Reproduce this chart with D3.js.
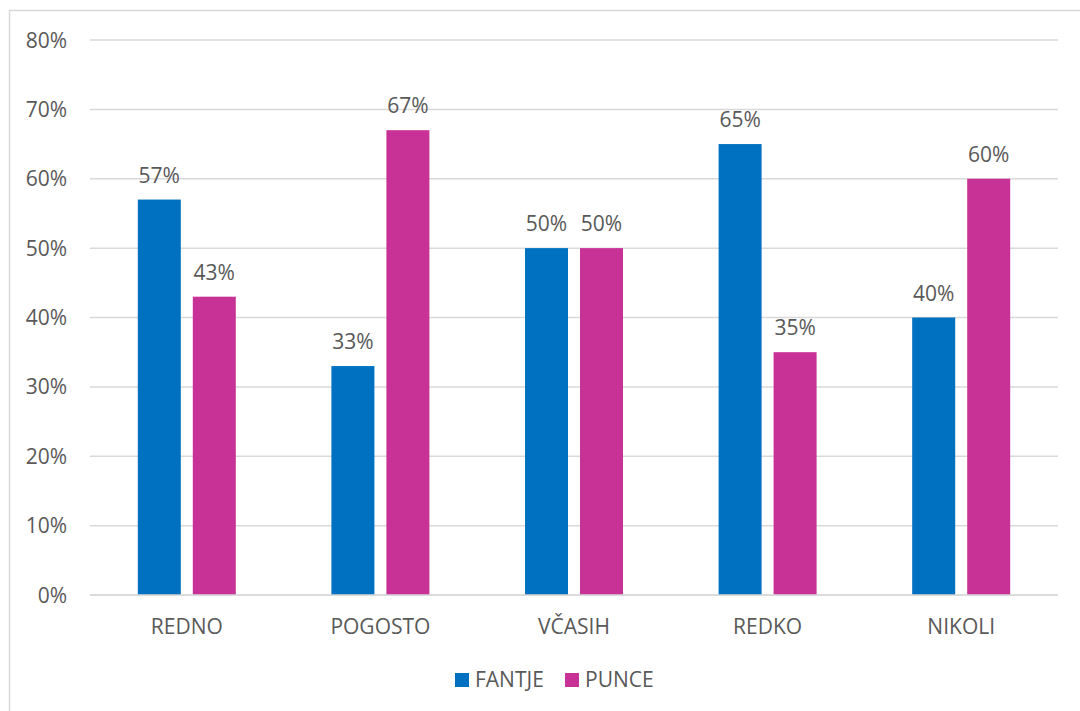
<!DOCTYPE html>
<html><head><meta charset="utf-8">
<script src="https://cdn.jsdelivr.net/npm/d3@7"></script>
<style>body{margin:0;background:#fff;} text{font-family:"Open Sans",sans-serif;fill:#595959;}</style>
</head><body>
<svg id="c" width="1080" height="711"></svg>
<script>
const categories = ["REDNO","POGOSTO","VČASIH","REDKO","NIKOLI"];
const seriesNames = ["FANTJE","PUNCE"];
const fantje = [57,33,50,65,40];
const punce = [43,67,50,35,60];
const yTicks = [0,10,20,30,40,50,60,70,80];
const colors = ["#0070C0","#C83296"];
const FS = 21;

const svg = d3.select("#c");
svg.append("rect").attr("x",9.5).attr("y",10.5).attr("width",1100).attr("height",800)
  .attr("fill","#fff").attr("stroke","#d9d9d9").attr("stroke-width",1.5);

const x0 = d3.scaleBand().domain(categories).range([90,1058]);
const y = d3.scaleLinear().domain([0,80]).range([595,40]);

const g = svg.append("g");
g.selectAll("line.grid").data(yTicks).join("line")
  .attr("x1",90).attr("x2",1058).attr("y1",d=>y(d)).attr("y2",d=>y(d))
  .attr("stroke","#d9d9d9").attr("stroke-width",1.5);
g.selectAll("text.yt").data(yTicks).join("text")
  .attr("x",67).attr("y",d=>y(d)).attr("dy","0.36em").attr("text-anchor","end")
  .attr("font-size",FS).text(d=>d+"%");

const series = [fantje,punce];
const barW = 43, gap = 12;
series.forEach((vals,si)=>{
  const off = si===0 ? -gap/2-barW : gap/2;
  g.selectAll("rect.s"+si).data(categories).join("rect")
    .attr("x",(d)=>x0(d)+x0.bandwidth()/2+off)
    .attr("y",(d,i)=>y(vals[i])).attr("width",barW)
    .attr("height",(d,i)=>y(0)-y(vals[i])).attr("fill",colors[si]);
  g.selectAll("text.l"+si).data(categories).join("text")
    .attr("x",(d)=>x0(d)+x0.bandwidth()/2+off+barW/2)
    .attr("y",(d,i)=>y(vals[i])-17).attr("text-anchor","middle")
    .attr("font-size",FS).text((d,i)=>vals[i]+"%");
});
g.append("line").attr("x1",90).attr("x2",1058).attr("y1",y(0)).attr("y2",y(0))
  .attr("stroke","#d9d9d9").attr("stroke-width",1.5);

g.selectAll("text.cat").data(categories).join("text")
  .attr("x",d=>x0(d)+x0.bandwidth()/2).attr("y",634).attr("text-anchor","middle")
  .attr("font-size",FS).text(d=>d);

const legX = [455,565];
seriesNames.forEach((n,i)=>{
  svg.append("rect").attr("x",legX[i]).attr("y",673).attr("width",14).attr("height",14).attr("fill",colors[i]);
  svg.append("text").attr("x",legX[i]+20).attr("y",687).attr("font-size",FS).text(n);
});
</script>
</body></html>
